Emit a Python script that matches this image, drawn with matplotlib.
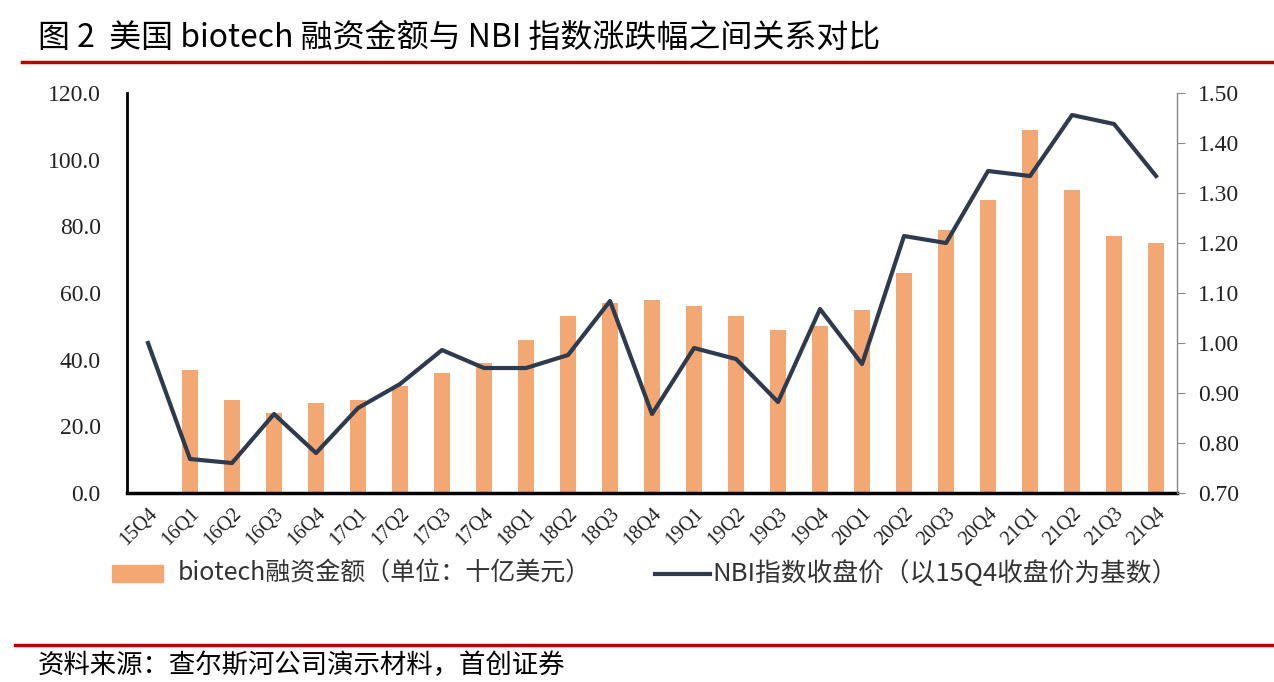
import matplotlib
matplotlib.use('Agg')
import matplotlib.pyplot as plt
import numpy as np
from matplotlib.lines import Line2D

plt.rcParams['font.family'] = ['Noto Sans CJK SC', 'DejaVu Sans']

#Data
quarters = ['15Q4', '16Q1', '16Q2', '16Q3', '16Q4', '17Q1', '17Q2', '17Q3', '17Q4',
            '18Q1', '18Q2', '18Q3', '18Q4', '19Q1', '19Q2', '19Q3', '19Q4',
            '20Q1', '20Q2', '20Q3', '20Q4', '21Q1', '21Q2', '21Q3', '21Q4']
funding = [0, 37, 28, 24, 27, 28, 32, 36, 39, 46, 53, 57, 58, 56, 53, 49, 50,
           55, 66, 79, 88, 109, 91, 77, 75]
nbi = [1.00, 0.768, 0.76, 0.858, 0.78, 0.87, 0.918, 0.986, 0.95, 0.95, 0.976, 1.084,
       0.858, 0.99, 0.968, 0.882, 1.068, 0.958, 1.214, 1.20, 1.344, 1.334, 1.456,
       1.438, 1.334]

barColor = '#F3A873'
lineColor = '#2E3A4E'
red = '#C00000'
serif = 'Liberation Serif'

fig = plt.figure(figsize=(12.74, 6.82), dpi=100)
ax = fig.add_axes([0.0997, 0.2771, 0.8242, 0.5865])
x = np.arange(len(quarters))
ax.bar(x, funding, width=0.38, color=barColor, zorder=2)
ax.set_xlim(-0.5, len(quarters) - 0.5)
ax.set_ylim(0, 120)
ax.set_yticks(np.arange(0, 121, 20))
ax.set_yticklabels(['%.1f' % v for v in np.arange(0, 121, 20)], fontsize=17,
                   family=serif, color='#222222')
ax.tick_params(axis='y', length=0, pad=19)
ax.set_xticks(x)
ax.set_xticklabels(quarters, rotation=45, ha='right', rotation_mode='anchor',
                   fontsize=14.5, family=serif, color='#222222')
ax.tick_params(axis='x', length=0, pad=8)
for s in ['top', 'right']:
    ax.spines[s].set_visible(False)
ax.spines['left'].set_linewidth(2)
ax.spines['bottom'].set_linewidth(2.5)
ax.spines['bottom'].set_zorder(5)

ax2 = ax.twinx()
ax2.plot(x, nbi, color=lineColor, linewidth=3, zorder=3)
ax2.set_ylim(0.70, 1.50)
ax2.set_yticks(np.arange(0.70, 1.501, 0.10))
ax2.set_yticklabels(['%.2f' % v for v in np.arange(0.70, 1.501, 0.10)], fontsize=17,
                    family=serif, color='#222222')
ax2.tick_params(axis='y', length=6, color='#888888', pad=9)
for s in ['top', 'left', 'bottom']:
    ax2.spines[s].set_visible(False)
ax2.spines['right'].set_color('#888888')
ax2.spines['right'].set_linewidth(1)

#Legend
fig.patches.append(plt.Rectangle((112 / 1274, 1 - 582 / 682), 51 / 1274, 17 / 682,
                                 transform=fig.transFigure, color=barColor))
fig.text(178 / 1274, 1 - 574 / 682, 'biotech融资金额（单位：十亿美元）', fontsize=18,
         va='center', color='#333333')
fig.lines.append(Line2D([655 / 1274, 710 / 1274], [1 - 574 / 682, 1 - 574 / 682],
                        transform=fig.transFigure, color=lineColor, linewidth=3))
fig.text(712 / 1274, 1 - 574 / 682, 'NBI指数收盘价（以15Q4收盘价为基数）', fontsize=18.5,
         va='center', color='#333333')

#Title and footer
fig.text(38 / 1274, 1 - 38 / 682, '图 2  美国 biotech 融资金额与 NBI 指数涨跌幅之间关系对比',
         fontsize=23, va='center', color='black')
fig.lines.append(Line2D([22 / 1274, 1.0], [1 - 62 / 682, 1 - 62 / 682],
                        transform=fig.transFigure, color=red, linewidth=2.5))
fig.lines.append(Line2D([15 / 1274, 1.0], [1 - 645 / 682, 1 - 645 / 682],
                        transform=fig.transFigure, color=red, linewidth=2.5))
fig.text(38 / 1274, 1 - 665 / 682, '资料来源：查尔斯河公司演示材料，首创证券', fontsize=19,
         va='center', color='black', style='italic')

fig.savefig('out.png', dpi=100)
